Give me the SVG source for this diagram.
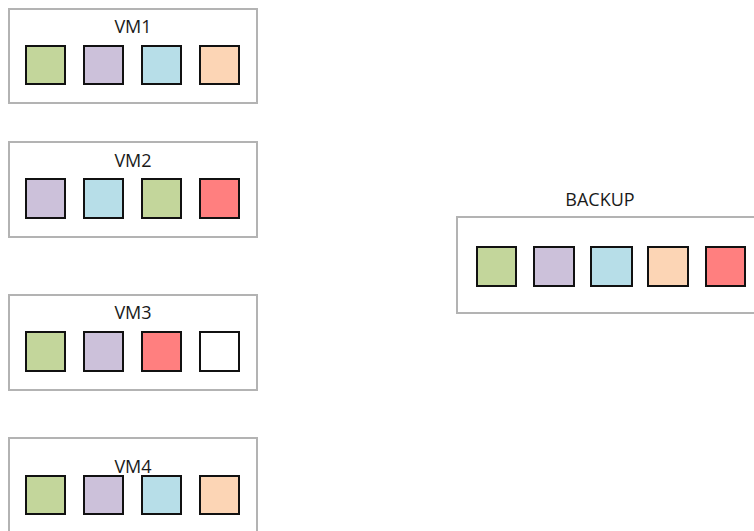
<svg xmlns="http://www.w3.org/2000/svg" width="754" height="531" viewBox="0 0 754 531">
  <style>
    .frame { fill: #ffffff; stroke: #b3b3b3; stroke-width: 2; }
    .sq { stroke: #111111; stroke-width: 2; }
    .g { fill: #c3d69b; }
    .p { fill: #ccc1da; }
    .b { fill: #b7dee8; }
    .o { fill: #fcd5b5; }
    .r { fill: #ff7f7f; }
    .w { fill: #ffffff; }
    .lbl { font-family: "Open Sans", "Noto Sans", "Liberation Sans", sans-serif; font-size: 18px; fill: #1a1a1a; text-anchor: middle; }
  </style>
  <rect width="754" height="531" fill="#ffffff"/>
  <g id="connectors"></g>
  <g id="vm1">
    <rect class="frame" x="9" y="9" width="248" height="94"/>
    <text class="lbl" x="133" y="33">VM1</text>
    <rect class="sq g" x="26" y="46" width="39" height="38"/>
    <rect class="sq p" x="84" y="46" width="39" height="38"/>
    <rect class="sq b" x="142" y="46" width="39" height="38"/>
    <rect class="sq o" x="200" y="46" width="39" height="38"/>
  </g>
  <g id="vm2">
    <rect class="frame" x="9" y="142" width="248" height="95"/>
    <text class="lbl" x="133" y="167">VM2</text>
    <rect class="sq p" x="26" y="179" width="39" height="39"/>
    <rect class="sq b" x="84" y="179" width="39" height="39"/>
    <rect class="sq g" x="142" y="179" width="39" height="39"/>
    <rect class="sq r" x="200" y="179" width="39" height="39"/>
  </g>
  <g id="vm3">
    <rect class="frame" x="9" y="295" width="248" height="95"/>
    <text class="lbl" x="133" y="319">VM3</text>
    <rect class="sq g" x="26" y="332" width="39" height="39"/>
    <rect class="sq p" x="84" y="332" width="39" height="39"/>
    <rect class="sq r" x="142" y="332" width="39" height="39"/>
    <rect class="sq w" x="200" y="332" width="39" height="39"/>
  </g>
  <g id="vm4">
    <rect class="frame" x="9" y="438" width="248" height="100"/>
    <text class="lbl" x="133" y="473">VM4</text>
    <rect class="sq g" x="26" y="476" width="39" height="38"/>
    <rect class="sq p" x="84" y="476" width="39" height="38"/>
    <rect class="sq b" x="142" y="476" width="39" height="38"/>
    <rect class="sq o" x="200" y="476" width="39" height="38"/>
  </g>
  <g id="backup">
    <rect class="frame" x="457" y="217" width="310" height="96"/>
    <text class="lbl" x="600" y="206">BACKUP</text>
    <rect class="sq g" x="477" y="247" width="39" height="39"/>
    <rect class="sq p" x="534" y="247" width="40" height="39"/>
    <rect class="sq b" x="591" y="247" width="41" height="39"/>
    <rect class="sq o" x="648" y="247" width="40" height="39"/>
    <rect class="sq r" x="706" y="247" width="39" height="39"/>
  </g>
</svg>
